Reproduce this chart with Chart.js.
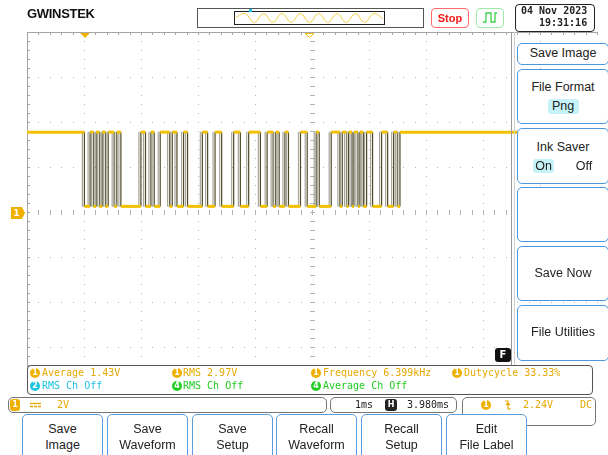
<!DOCTYPE html>
<html>
<head>
<meta charset="utf-8">
<script src="https://cdn.jsdelivr.net/npm/chart.js@4.4.1/dist/chart.umd.min.js"></script>
<style>
html, body { margin: 0; padding: 0; background: #fff; }
#scope { position: relative; width: 608px; height: 455px; overflow: hidden; font-family: "Liberation Sans", Arial, sans-serif; }
#plot { position: absolute; left: 0; top: 0; width: 608px; height: 455px; }
.abs { position: absolute; box-sizing: border-box; }
.mono { font-family: "DejaVu Sans Mono", "Liberation Mono", monospace; font-size: 10px; line-height: 12px; white-space: pre; }
.mbox { position: absolute; left: 517px; width: 92px; border: 1.5px solid #4a98e0; border-radius: 5px; box-sizing: border-box; background: #fff; color: #222; font-size: 12.5px; text-align: center; }
.btn { position: absolute; top: 414px; width: 81px; height: 50px; border: 1.5px solid #5a9de0; border-radius: 5px; box-sizing: border-box; background: #fff; color: #222; font-size: 12.5px; line-height: 16px; text-align: center; padding-top: 6px; }
.dot { position: absolute; width: 10px; height: 10px; border-radius: 50%; color: #fff; font: bold 8px/10px "DejaVu Sans", sans-serif; text-align: center; }
.ch1 { color: #e6a800; }
.ch2 { color: #1ec3e0; }
.ch4 { color: #22cc22; }
</style>
</head>
<body>
<div id="scope">
  <div id="plot"><canvas id="scopeChart"></canvas></div>

  <!-- header -->
  <div class="abs" style="left:27px;top:7px;font:bold 13px/14px 'Liberation Sans',Arial,sans-serif;color:#111;letter-spacing:-0.3px;">GWINSTEK</div>
  <div class="abs" style="left:197px;top:8px;width:227px;height:20px;border:1px solid #555;"></div>
  <div class="abs" style="left:234px;top:11px;width:151px;height:14px;border:1.5px solid #222;"></div>
  <div class="abs" style="left:236px;top:12px;width:147px;height:12px;"><canvas id="overviewChart"></canvas></div>
  <div class="abs" style="left:249px;top:9px;width:3px;height:3px;background:#19c8e0;"></div>
  <div class="abs" style="left:431px;top:8px;width:38px;height:20px;border:1px solid #ff6a6a;border-radius:4px;color:#f01818;font:bold 11px/18px 'Liberation Sans',Arial,sans-serif;text-align:center;">Stop</div>
  <div class="abs" style="left:476px;top:8px;width:28px;height:20px;border:1px solid #9ee8a8;border-radius:4px;"></div>
  <div class="abs" style="left:515px;top:4px;width:80px;height:28px;border:1.5px solid #222;border-radius:4px;background:#fff;"></div>
  <div class="abs mono" style="left:521px;top:5px;font-weight:bold;color:#222;">04 Nov 2023</div>
  <div class="abs mono" style="left:539px;top:17px;font-weight:bold;color:#222;">19:31:16</div>

  <svg class="abs" style="left:0;top:0;" width="608" height="455">
    <path d="M483 22 h3 v-9 h5 v9 h4 v-9 h2" fill="none" stroke="#3bd24a" stroke-width="1.3"/>
    <path d="M80 33 L90 33 L85 38 Z" fill="#f0b400"/>
    <path d="M305 33.5 L314 33.5 L309.5 37.5 Z" fill="#fff" stroke="#f0c000" stroke-width="1"/>
    <path d="M11 207 h11 l3 6 l-3 6 h-11 Z" fill="#f0b000"/>
    <path d="M30 403.5 h11" stroke="#e6a800" stroke-width="1.3"/>
    <path d="M30 406.5 h3 M34 406.5 h3 M38 406.5 h3" stroke="#e6a800" stroke-width="1.3"/>
    <path d="M505 401 h3 v8 h3 M506 405 l2 -2 l2 2" fill="none" stroke="#e6a800" stroke-width="1.2"/>
    <path d="M511.5 32 V365" stroke="#9a9a9a" stroke-width="1"/>
    <path d="M514.5 32 V365" stroke="#cfcfcf" stroke-width="1"/>
  </svg>
  <div class="abs" style="left:11px;top:207px;width:11px;height:12px;color:#fff;font:bold 9px/12px 'DejaVu Sans',sans-serif;text-align:center;">1</div>

  <!-- right menu -->
  <div class="mbox" style="top:43px;height:22px;line-height:19px;">Save Image</div>
  <div class="mbox" style="top:69px;height:55px;">
    <div style="margin-top:9px;line-height:16px;">File Format</div>
    <div style="margin:4px auto 0;width:31px;height:15px;line-height:15px;background:#c6f3f8;border-radius:3px;">Png</div>
  </div>
  <div class="mbox" style="top:128px;height:56px;">
    <div style="margin-top:10px;line-height:16px;">Ink Saver</div>
    <div style="position:absolute;left:15px;top:30px;width:21px;height:14px;line-height:14px;background:#c6f3f8;border-radius:3px;">On</div>
    <div style="position:absolute;left:56px;top:30px;width:20px;line-height:14px;">Off</div>
  </div>
  <div class="mbox" style="top:187px;height:55px;"></div>
  <div class="mbox" style="top:246px;height:55px;line-height:52px;">Save Now</div>
  <div class="mbox" style="top:305px;height:56px;line-height:53px;">File Utilities</div>
  <div class="abs" style="left:495px;top:348px;width:16px;height:14px;background:#111;border-radius:3px;color:#fff;font:bold 10px/14px 'DejaVu Sans',sans-serif;text-align:center;">F</div>

  <!-- measurement box -->
  <div class="abs" style="left:27px;top:365px;width:566px;height:30px;border:1.5px solid #555;border-radius:4px;background:#fff;"></div>
  <div class="dot" style="left:30px;top:368px;background:#f0b000;">1</div>
  <div class="abs mono ch1" style="left:42px;top:367px;">Average 1.43V</div>
  <div class="dot" style="left:172px;top:368px;background:#f0b000;">1</div>
  <div class="abs mono ch1" style="left:183px;top:367px;">RMS 2.97V</div>
  <div class="dot" style="left:311px;top:368px;background:#f0b000;">1</div>
  <div class="abs mono ch1" style="left:323px;top:367px;">Frequency 6.399kHz</div>
  <div class="dot" style="left:452px;top:368px;background:#f0b000;">1</div>
  <div class="abs mono ch1" style="left:464px;top:367px;">Dutycycle 33.33%</div>
  <div class="dot" style="left:30px;top:381px;background:#1ec3e0;">2</div>
  <div class="abs mono ch2" style="left:42px;top:380px;">RMS Ch Off</div>
  <div class="dot" style="left:172px;top:381px;background:#22cc22;">4</div>
  <div class="abs mono ch4" style="left:183px;top:380px;">RMS Ch Off</div>
  <div class="dot" style="left:311px;top:381px;background:#22cc22;">4</div>
  <div class="abs mono ch4" style="left:323px;top:380px;">Average Ch Off</div>

  <!-- status bar -->
  <div class="abs" style="left:8px;top:397px;width:319px;height:16px;border:1.5px solid #777;border-radius:5px;"></div>
  <div class="abs" style="left:10px;top:399px;width:10px;height:12px;background:#f0b000;border-radius:3px;color:#fff;font:bold 8px/12px 'DejaVu Sans',sans-serif;text-align:center;">1</div>
  <div class="abs mono ch1" style="left:57px;top:399px;">2V</div>
  <div class="abs" style="left:330px;top:397px;width:127px;height:16px;border:1.5px solid #777;border-radius:5px;"></div>
  <div class="abs mono" style="left:355px;top:399px;color:#222;">1ms</div>
  <div class="abs" style="left:385px;top:399px;width:12px;height:12px;background:#222;border-radius:3px;color:#fff;font:bold 8px/12px 'DejaVu Sans',sans-serif;text-align:center;">H</div>
  <div class="abs mono" style="left:407px;top:399px;color:#222;">3.980ms</div>
  <div class="abs" style="left:462px;top:397px;width:134px;height:29px;border:1.5px solid #777;border-radius:5px;"></div>
  <div class="dot" style="left:481px;top:400px;background:#f0b000;">1</div>
  <div class="abs mono ch1" style="left:523px;top:399px;">2.24V</div>
  <div class="abs mono ch1" style="left:580px;top:399px;">DC</div>

  <!-- soft keys -->
  <div class="btn" style="left:22px;">Save<br>Image</div>
  <div class="btn" style="left:107px;">Save<br>Waveform</div>
  <div class="btn" style="left:192px;">Save<br>Setup</div>
  <div class="btn" style="left:276px;">Recall<br>Waveform</div>
  <div class="btn" style="left:361px;">Recall<br>Setup</div>
  <div class="btn" style="left:446px;">Edit<br>File Label</div>
</div>

<script>
// screen: 10 div x 1 ms/div, 8 div x 2 V/div, ch1 ground at centre
var timeRangeMs = [0, 10];
var voltRange = [-8, 8];
var highV = 3.55;
var lowV = 0.25;
// ch1 edge times (ms from left edge), trace starts high and toggles at each edge
var edgesMs = [
  1.007, 1.107, 1.165, 1.213, 1.271, 1.318, 1.376, 1.424, 1.529, 1.576, 1.647,
  1.998, 2.079, 2.174, 2.232, 2.337, 2.501, 2.548, 2.631, 2.747, 2.817,
  3.076, 3.169, 3.299, 3.415, 3.626, 3.743, 3.889, 4.095, 4.213, 4.318,
  4.364, 4.424, 4.525, 4.587, 4.798, 4.916, 5.074, 5.127, 5.337, 5.489,
  5.531, 5.606, 5.641, 5.703, 5.735, 5.805, 5.840, 5.900, 5.958, 6.063,
  6.221, 6.327, 6.432, 6.497, 6.543
];
// memory overview strip at the top (relative level)
var overviewWave = [0.6, 1, 0, 1, 0, 1, 0, 1, 0, 1, 0, 1, 0, 1, 0, 1, 0.4];

function tracePoints() {
  var pts = [{ x: timeRangeMs[0], y: highV }];
  var high = true;
  edgesMs.forEach(function (t) {
    var from = high ? highV : lowV;
    high = !high;
    pts.push({ x: t, y: from }, { x: t, y: high ? highV : lowV });
  });
  pts.push({ x: timeRangeMs[1], y: high ? highV : lowV });
  return pts;
}

var isFlat = function (c) { return c.p0.parsed.y === c.p1.parsed.y; };

var graticule = {
  id: "graticule",
  beforeDatasetsDraw: function (chart) {
    var ctx = chart.ctx, a = chart.chartArea, x = chart.scales.x, y = chart.scales.y;
    ctx.save();
    ctx.fillStyle = "#b2b2b2";
    // dotted division lines
    for (var d = 1; d < 10; d++) {
      var px = Math.round(x.getPixelForValue(d));
      for (var m = 0; m <= 40; m++) ctx.fillRect(px, Math.round(y.getPixelForValue(voltRange[0] + m * 0.4)), 1, 1);
    }
    for (var v = voltRange[0] + 2; v < voltRange[1]; v += 2) {
      var py = Math.round(y.getPixelForValue(v));
      for (var k = 0; k <= 50; k++) ctx.fillRect(Math.round(x.getPixelForValue(k * 0.2)), py, 1, 1);
    }
    // centre cross ticks
    var cx = Math.round(x.getPixelForValue(5)), cy = Math.round(y.getPixelForValue(0));
    for (var m2 = 0; m2 <= 40; m2++) ctx.fillRect(cx - 2, Math.round(y.getPixelForValue(voltRange[0] + m2 * 0.4)), 5, 1);
    for (var k2 = 0; k2 <= 50; k2++) ctx.fillRect(Math.round(x.getPixelForValue(k2 * 0.2)), cy - 2, 1, 5);
    // frame with minor ticks
    ctx.fillStyle = "#a6a6a6";
    ctx.fillRect(a.left, a.top, a.right - a.left, 1);
    ctx.fillRect(a.left, a.top, 1, a.bottom - a.top);
    for (var k3 = 0; k3 <= 50; k3++) ctx.fillRect(Math.round(x.getPixelForValue(k3 * 0.2)), a.top, 1, 3);
    for (var m3 = 0; m3 <= 40; m3++) ctx.fillRect(a.left, Math.round(y.getPixelForValue(voltRange[0] + m3 * 0.4)), 3, 1);
    ctx.restore();
  }
};

// persistence ghost: the dark trace is echoed in grey a couple of pixels to the left
var ghostTrace = {
  id: "ghostTrace",
  beforeDatasetDraw: function (chart, args) {
    if (args.index !== 1) return;
    var ctx = chart.ctx;
    ctx.save();
    ctx.shadowColor = "rgba(150,150,135,0.85)";
    ctx.shadowOffsetX = -2;
    ctx.shadowOffsetY = 0;
    ctx.shadowBlur = 0;
  },
  afterDatasetDraw: function (chart, args) {
    if (args.index === 1) chart.ctx.restore();
  }
};

var trace = tracePoints();

new Chart(document.getElementById("scopeChart").getContext("2d"), {
  type: "line",
  data: {
    datasets: [
      {
        label: "CH1 level",
        data: trace,
        borderWidth: 3,
        borderColor: "#f2c200",
        segment: { borderColor: function (c) { return isFlat(c) ? "#f2c200" : "rgba(0,0,0,0)"; } },
        pointRadius: 0,
        tension: 0
      },
      {
        label: "CH1",
        data: trace,
        borderWidth: 1.2,
        borderColor: "#4f4a28",
        segment: { borderColor: function (c) { return isFlat(c) ? "rgba(90,80,30,0.55)" : "#4f4a28"; } },
        pointRadius: 0,
        tension: 0
      }
    ]
  },
  options: {
    responsive: true,
    maintainAspectRatio: false,
    animation: false,
    layout: { padding: { left: 27, top: 32, right: 11, bottom: 63 } },
    scales: {
      x: { type: "linear", min: timeRangeMs[0], max: timeRangeMs[1], display: false },
      y: { min: voltRange[0], max: voltRange[1], display: false }
    },
    plugins: { legend: { display: false }, tooltip: { enabled: false } }
  },
  plugins: [graticule, ghostTrace]
});

new Chart(document.getElementById("overviewChart").getContext("2d"), {
  type: "line",
  data: {
    labels: overviewWave.map(function (_, i) { return i; }),
    datasets: [{ data: overviewWave, borderColor: "#f2cc40", borderWidth: 1, pointRadius: 0, tension: 0.45 }]
  },
  options: {
    responsive: true,
    maintainAspectRatio: false,
    animation: false,
    layout: { padding: 0 },
    scales: { x: { display: false }, y: { min: -0.2, max: 1.2, display: false } },
    plugins: { legend: { display: false }, tooltip: { enabled: false } }
  }
});
</script>
</body>
</html>
